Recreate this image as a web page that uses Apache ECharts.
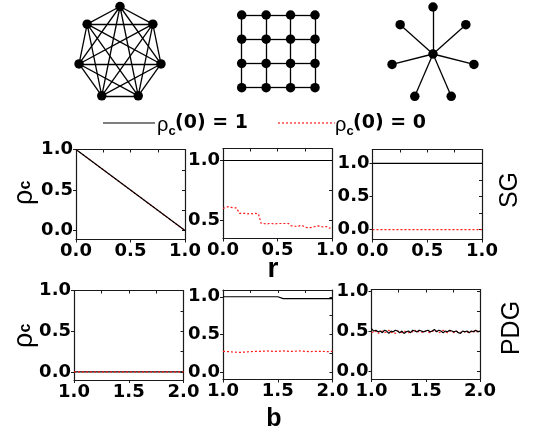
<!DOCTYPE html>
<html>
<head>
<meta charset="utf-8">
<script src="https://cdn.jsdelivr.net/npm/echarts@6/dist/echarts.min.js"></script>
<style>
  html, body { margin: 0; padding: 0; background: #fff; }
  #chart { width: 533px; height: 432px; }
</style>
</head>
<body>
<div id="chart"></div>
<script>
// ---------------- data ----------------
// x axes
const rCoarse = [0, 0.25, 0.5, 0.75, 1.0];
const rFine = [0, 0.025, 0.05, 0.075, 0.1, 0.125, 0.15, 0.175, 0.2, 0.225, 0.25, 0.275, 0.3, 0.325,
  0.35, 0.375, 0.4, 0.425, 0.45, 0.475, 0.5, 0.525, 0.55, 0.575, 0.6, 0.625, 0.65, 0.675, 0.7,
  0.725, 0.75, 0.775, 0.8, 0.825, 0.85, 0.875, 0.9, 0.925, 0.95, 0.975, 1.0];
const bCoarse = [1.0, 1.25, 1.5, 1.75, 2.0];
const bMid = [1.0, 1.05, 1.1, 1.15, 1.2, 1.25, 1.3, 1.35, 1.4, 1.45, 1.5, 1.55, 1.6, 1.65, 1.7,
  1.75, 1.8, 1.85, 1.9, 1.95, 2.0];
const bFine = [1.00, 1.02, 1.04, 1.06, 1.08, 1.10, 1.12, 1.14, 1.16, 1.18, 1.20, 1.22, 1.24, 1.26,
  1.28, 1.30, 1.32, 1.34, 1.36, 1.38, 1.40, 1.42, 1.44, 1.46, 1.48, 1.50, 1.52, 1.54, 1.56, 1.58,
  1.60, 1.62, 1.64, 1.66, 1.68, 1.70, 1.72, 1.74, 1.76, 1.78, 1.80, 1.82, 1.84, 1.86, 1.88, 1.90,
  1.92, 1.94, 1.96, 1.98, 2.00];

// Snowdrift game (SG), fraction of cooperators vs r
const sgCompleteC1 = [1.0, 0.75, 0.5, 0.25, 0.0];
const sgCompleteC0 = [1.0, 0.75, 0.5, 0.25, 0.0];
const sgLatticeC1 = [1.0, 1.0, 1.0, 1.0, 1.0];
const sgLatticeC0 = [0.60, 0.61, 0.615, 0.61, 0.605, 0.605, 0.56, 0.56, 0.56, 0.555, 0.56, 0.555,
  0.56, 0.555, 0.475, 0.475, 0.47, 0.475, 0.475, 0.47, 0.475, 0.475, 0.475, 0.475, 0.475, 0.455,
  0.455, 0.45, 0.455, 0.46, 0.445, 0.44, 0.44, 0.445, 0.45, 0.455, 0.45, 0.445, 0.45, 0.435, 0.445];
const sgStarC1 = [1.0, 1.0, 1.0, 1.0, 1.0];
const sgStarC0 = [0.0, 0.0, 0.0, 0.0, 0.0];

// Prisoner's dilemma game (PDG), fraction of cooperators vs b
const pdgCompleteC1 = [0.0, 0.0, 0.0, 0.0, 0.0];
const pdgCompleteC0 = [0.0, 0.0, 0.0, 0.0, 0.0];
const pdgLatticeC1 = [1, 1, 1, 1, 1, 1, 1, 1, 1, 1, 1, 0.975, 0.975, 0.975, 0.975, 0.975, 0.975,
  0.975, 0.975, 0.975, 0.975];
const pdgLatticeC0 = [0.275, 0.27, 0.265, 0.26, 0.265, 0.27, 0.275, 0.275, 0.28, 0.275, 0.275,
  0.28, 0.275, 0.275, 0.28, 0.275, 0.27, 0.275, 0.275, 0.27, 0.275];
const pdgStarC1 = [0.53, 0.50, 0.51, 0.49, 0.50, 0.48, 0.51, 0.50, 0.47, 0.50,
  0.49, 0.51, 0.50, 0.48, 0.50, 0.47, 0.49, 0.50, 0.48, 0.51,
  0.50, 0.49, 0.51, 0.50, 0.49, 0.50, 0.51, 0.49, 0.50, 0.52,
  0.49, 0.51, 0.50, 0.48, 0.50, 0.49, 0.51, 0.50, 0.49, 0.50,
  0.48, 0.47, 0.50, 0.49, 0.50, 0.48, 0.50, 0.49, 0.51, 0.49,
  0.50];
const pdgStarC0 = [0.49, 0.48, 0.50, 0.47, 0.49, 0.50, 0.48, 0.49, 0.51, 0.48,
  0.49, 0.47, 0.50, 0.49, 0.48, 0.50, 0.49, 0.48, 0.50, 0.49,
  0.51, 0.48, 0.50, 0.49, 0.48, 0.50, 0.49, 0.48, 0.50, 0.49,
  0.50, 0.48, 0.49, 0.51, 0.49, 0.48, 0.50, 0.49, 0.48, 0.50,
  0.49, 0.48, 0.50, 0.49, 0.48, 0.50, 0.49, 0.51, 0.48, 0.50,
  0.49];

// tick values
const rTicks = [0, 0.5, 1.0];
const rMinor = [0.25, 0.75];
const bTicks = [1.0, 1.5, 2.0];
const bMinor = [1.25, 1.75];
const yTicks = [0, 0.5, 1.0];
const yMinor = [0.25, 0.75];
const yTicksLattice = [0.5, 1.0];
const yMinorLattice = [0.75];

// network sizes
const completeNodes = 7;
const latticeSide = 4;
const starLeaves = 7;

const seriesNames = ['ρc(0) = 1', 'ρc(0) = 0'];

// ---------------- chart ----------------
const TICK_FONT = '"DejaVu Sans", sans-serif';
const AX = '#1a1a1a';
const grids = [], xAxes = [], yAxes = [], series = [];

function pairs(xs, ys) { return xs.map((x, i) => [x, ys[i]]); }

function addPanel(box, xr, yr, xMaj, xMin, yMaj, yMin, lines) {
  const g = grids.length;
  grids.push({ left: box[0], top: box[1], width: box[2], height: box[3], containLabel: false });
  const line = { show: true, onZero: false, lineStyle: { color: AX, width: 1.2 } };
  const label = {
    show: true, fontFamily: TICK_FONT, fontWeight: 'bold', fontSize: 18, color: '#000',
    formatter: v => v.toFixed(1), hideOverlap: false, showMinLabel: true, showMaxLabel: true
  };
  const xi = xAxes.length;
  xAxes.push({
    gridIndex: g, type: 'value', position: 'bottom', min: xr[0], max: xr[1],
    axisLine: line, splitLine: { show: false },
    axisTick: { show: true, inside: false, length: 3, customValues: xMaj, lineStyle: { color: AX, width: 1 } },
    axisLabel: Object.assign({ margin: 3, customValues: xMaj }, label)
  });
  xAxes.push({
    gridIndex: g, type: 'value', position: 'top', min: xr[0], max: xr[1],
    axisLine: line, splitLine: { show: false }, axisLabel: { show: false },
    axisTick: { show: true, inside: true, length: 3, customValues: xMaj.concat(xMin), lineStyle: { color: AX, width: 1 } }
  });
  const yi = yAxes.length;
  yAxes.push({
    gridIndex: g, type: 'value', position: 'left', min: yr[0], max: yr[1],
    axisLine: line, splitLine: { show: false },
    axisTick: { show: true, inside: false, length: 3, customValues: yMaj, lineStyle: { color: AX, width: 1 } },
    axisLabel: Object.assign({ margin: 3, customValues: yMaj }, label)
  });
  yAxes.push({
    gridIndex: g, type: 'value', position: 'right', min: yr[0], max: yr[1],
    axisLine: line, splitLine: { show: false }, axisLabel: { show: false },
    axisTick: { show: true, inside: true, length: 3, customValues: yMaj.concat(yMin), lineStyle: { color: AX, width: 1 } }
  });
  lines.forEach(l => {
    series.push({
      type: 'line', name: l.name, xAxisIndex: xi, yAxisIndex: yi,
      data: pairs(l.x, l.y), showSymbol: false, symbol: 'none', clip: true, silent: true,
      z: l.z, animation: false,
      lineStyle: l.red ? { color: '#ff1a1a', width: 1.2, type: [2, 2] } : { color: '#000', width: 1.2 }
    });
  });
}

// top row: SG vs r
addPanel([76, 149.5, 109, 90], [0, 1], [-0.11, 1.0], rTicks, rMinor, yTicks, yMinor, [
  { name: seriesNames[1], x: rCoarse, y: sgCompleteC0, red: true, z: 2 },
  { name: seriesNames[0], x: rCoarse, y: sgCompleteC1, z: 3 }]);
addPanel([223, 148.5, 109, 90], [0, 1], [0.35, 1.1], rTicks, rMinor, yTicksLattice, yMinorLattice, [
  { name: seriesNames[0], x: rCoarse, y: sgLatticeC1, z: 2 },
  { name: seriesNames[1], x: rFine, y: sgLatticeC0, red: true, z: 3 }]);
addPanel([372.5, 149.5, 109.5, 90], [0, 1], [-0.15, 1.21], rTicks, rMinor, yTicks, yMinor, [
  { name: seriesNames[0], x: rCoarse, y: sgStarC1, z: 2 },
  { name: seriesNames[1], x: rCoarse, y: sgStarC0, red: true, z: 3 }]);
// bottom row: PDG vs b
addPanel([74, 290.5, 109.5, 89.5], [1, 2], [-0.1, 1.0], bTicks, bMinor, yTicks, yMinor, [
  { name: seriesNames[0], x: bCoarse, y: pdgCompleteC1, z: 2 },
  { name: seriesNames[1], x: bCoarse, y: pdgCompleteC0, red: true, z: 3 }]);
addPanel([223, 290, 109.5, 89.5], [1, 2], [-0.1, 1.09], bTicks, bMinor, yTicks, yMinor, [
  { name: seriesNames[0], x: bMid, y: pdgLatticeC1, z: 2 },
  { name: seriesNames[1], x: bMid, y: pdgLatticeC0, red: true, z: 3 }]);
addPanel([371.5, 289.5, 108.5, 89.5], [1, 2], [-0.1, 1.02], bTicks, bMinor, yTicks, yMinor, [
  { name: seriesNames[1], x: bFine, y: pdgStarC0, red: true, z: 2 },
  { name: seriesNames[0], x: bFine, y: pdgStarC1, z: 3 }]);

// network sketches drawn as graph series on hidden cartesian grids
function addNetwork(box, range, nodes, links) {
  const g = grids.length;
  grids.push({ left: box[0], top: box[1], width: box[2], height: box[3] });
  const hidden = { show: false };
  const xi = xAxes.length, yi = yAxes.length;
  xAxes.push({ gridIndex: g, type: 'value', min: range[0], max: range[1], show: false, splitLine: hidden });
  yAxes.push({ gridIndex: g, type: 'value', min: range[2], max: range[3], show: false, splitLine: hidden });
  series.push({
    type: 'graph', coordinateSystem: 'cartesian2d', xAxisIndex: xi, yAxisIndex: yi,
    layout: 'none', silent: true, animation: false,
    symbol: 'circle', symbolSize: 9.5,
    itemStyle: { color: '#000' },
    lineStyle: { color: '#000', width: 1.3, opacity: 1, curveness: 0 },
    label: { show: false },
    data: nodes.map(p => ({ value: p })),
    links: links.map(l => ({ source: l[0], target: l[1] }))
  });
}

// complete graph: nodes on a heptagon, every pair linked
const compNodes = [], compLinks = [];
for (let k = 0; k < completeNodes; k++) {
  const a = 2 * Math.PI * k / completeNodes;
  compNodes.push([Math.sin(a), Math.cos(a)]);
  for (let j = 0; j < k; j++) compLinks.push([j, k]);
}
addNetwork([78, 6.5, 84, 94], [-1, 1, -1, 1], compNodes, compLinks);

// square lattice
const latNodes = [], latLinks = [];
for (let i = 0; i < latticeSide; i++) {
  for (let j = 0; j < latticeSide; j++) {
    const id = i * latticeSide + j;
    latNodes.push([j, i]);
    if (j > 0) latLinks.push([id - 1, id]);
    if (i > 0) latLinks.push([id - latticeSide, id]);
  }
}
addNetwork([241.7, 15, 73.3, 72.7], [0, latticeSide - 1, 0, latticeSide - 1], latNodes, latLinks);

// star: hub plus leaves
const starNodes = [[0, 0]], starLinks = [];
for (let k = 0; k < starLeaves; k++) {
  const a = 2 * Math.PI * k / starLeaves;
  starNodes.push([Math.sin(a), Math.cos(a)]);
  starLinks.push([0, k + 1]);
}
addNetwork([391, 7, 84, 94], [-1, 1, -1, 1], starNodes, starLinks);

// ---------------- annotations ----------------
const BOLD = 'bold';
const SANS = '"Liberation Sans", Arial, sans-serif';
function txt(x, y, text, size, weight, family, align) {
  return {
    type: 'text', x: x, y: y, silent: true,
    style: {
      text: text, fill: '#000', fontSize: size, fontWeight: weight || 'normal',
      fontFamily: family || SANS,
      textAlign: align || 'left', textVerticalAlign: 'middle'
    }
  };
}
function rhoC(x, y) {
  return {
    type: 'group', x: x, y: y, rotation: Math.PI / 2, silent: true,
    children: [
      txt(-15, 0, 'ρ', 27, 'normal'),
      txt(0.5, 1, 'c', 16, BOLD)
    ]
  };
}
function rotLabel(x, y, text, size) {
  return {
    type: 'text', x: x, y: y, rotation: Math.PI / 2, silent: true,
    style: {
      text: text, fill: '#000', fontSize: size, fontFamily: SANS,
      textAlign: 'center', textVerticalAlign: 'middle'
    }
  };
}

const graphics = [
  // legend
  { type: 'line', shape: { x1: 103, y1: 123, x2: 155, y2: 123 }, style: { stroke: '#000', lineWidth: 1.2 }, silent: true },
  txt(157, 125, 'ρ', 20, 'normal'),
  txt(168.5, 131, 'c', 13, BOLD),
  txt(175, 123, '(0) = 1', 19, BOLD, TICK_FONT),
  { type: 'line', shape: { x1: 278, y1: 123, x2: 335, y2: 123 }, style: { stroke: '#ff1a1a', lineWidth: 1.2, lineDash: [2, 2] }, silent: true },
  txt(335, 125, 'ρ', 20, 'normal'),
  txt(346.5, 131, 'c', 13, BOLD),
  txt(353, 123, '(0) = 0', 19, BOLD, TICK_FONT),
  // axis titles
  txt(273, 269, 'r', 28, BOLD, SANS, 'center'),
  txt(274, 419, 'b', 25, BOLD, SANS, 'center'),
  rhoC(25, 190),
  rhoC(25, 333),
  rotLabel(510, 190, 'SG', 25),
  rotLabel(512, 328, 'PDG', 25)
];

const chart = echarts.init(document.getElementById('chart'), null, { renderer: 'canvas' });
chart.setOption({
  backgroundColor: '#fff',
  animation: false,
  grid: grids,
  xAxis: xAxes,
  yAxis: yAxes,
  series: series,
  graphic: graphics
});
</script>
</body>
</html>
